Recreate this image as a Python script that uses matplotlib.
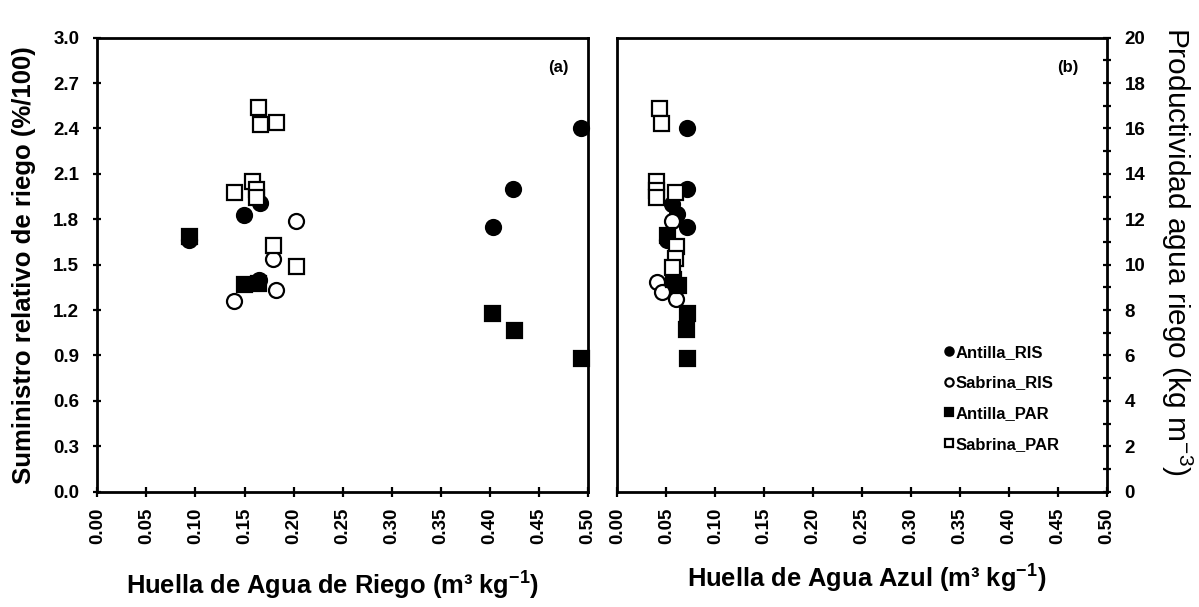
import matplotlib
matplotlib.use("Agg")
import matplotlib.pyplot as plt
from matplotlib.ticker import MultipleLocator, FormatStrFormatter

plt.rcParams['font.family'] = ['Liberation Sans', 'DejaVu Sans']
plt.rcParams['mathtext.fontset'] = 'custom'
plt.rcParams['mathtext.rm'] = 'Liberation Sans'
plt.rcParams['mathtext.bf'] = 'Liberation Sans:bold'

# Panel (a): irrigation water footprint vs relative irrigation supply
a_antilla_ris_x = [0.493, 0.424, 0.403, 0.149, 0.0935, 0.166, 0.165]
a_antilla_ris_y = [2.40, 2.00, 1.75, 1.83, 1.66, 1.91, 1.40]
a_sabrina_ris_x = [0.202, 0.1786, 0.182, 0.1395]
a_sabrina_ris_y = [1.79, 1.54, 1.33, 1.26]
a_antilla_par_x = [0.0935, 0.149, 0.164, 0.4026, 0.4243, 0.493]
a_antilla_par_y = [1.69, 1.37, 1.38, 1.18, 1.07, 0.88]
a_sabrina_par_x = [0.164, 0.1653, 0.182, 0.158, 0.139, 0.162, 0.162, 0.179, 0.202]
a_sabrina_par_y = [2.54, 2.43, 2.44, 2.05, 1.98, 2.00, 1.95, 1.63, 1.49]

# Panel (b): blue water footprint vs irrigation water productivity
b_antilla_ris_x = [0.0708, 0.0708, 0.0714, 0.0554, 0.0605, 0.0503, 0.058]
b_antilla_ris_y = [16.04, 13.32, 11.66, 12.69, 12.22, 11.08, 9.3]
b_sabrina_ris_x = [0.040, 0.0458, 0.0595, 0.056]
b_sabrina_ris_y = [9.24, 8.80, 8.47, 11.93]
b_antilla_par_x = [0.051, 0.057, 0.062, 0.0714, 0.0704, 0.0708]
b_antilla_par_y = [11.3, 9.39, 9.1, 7.88, 7.15, 5.9]
b_sabrina_par_x = [0.0424, 0.0444, 0.039, 0.039, 0.039, 0.0588, 0.0598, 0.0588, 0.056]
b_sabrina_par_y = [16.89, 16.23, 13.69, 13.31, 12.98, 13.2, 10.81, 10.3, 9.88]

series_names = ['Antilla_RIS', 'Sabrina_RIS', 'Antilla_PAR', 'Sabrina_PAR']
series_markers = ['o', 'o', 's', 's']
series_faces = ['black', 'white', 'black', 'white']

x_ticks = [0.00, 0.05, 0.10, 0.15, 0.20, 0.25, 0.30, 0.35, 0.40, 0.45, 0.50]

fig = plt.figure(figsize=(11.99, 6.07), dpi=100)
ax1 = fig.add_axes([0.0812, 0.190, 0.4092, 0.748])
ax2 = fig.add_axes([0.515, 0.190, 0.408, 0.748])

panel_a = [(a_antilla_ris_x, a_antilla_ris_y), (a_sabrina_ris_x, a_sabrina_ris_y),
           (a_antilla_par_x, a_antilla_par_y), (a_sabrina_par_x, a_sabrina_par_y)]
panel_b = [(b_antilla_ris_x, b_antilla_ris_y), (b_sabrina_ris_x, b_sabrina_ris_y),
           (b_antilla_par_x, b_antilla_par_y), (b_sabrina_par_x, b_sabrina_par_y)]

for ax, data in ((ax1, panel_a), (ax2, panel_b)):
    for (xs, ys), name, mk, fc in zip(data, series_names, series_markers, series_faces):
        ax.plot(xs, ys, linestyle='none', marker=mk, markersize=10.8,
                markerfacecolor=fc, markeredgecolor='black', markeredgewidth=1.6,
                label=name, clip_on=False, zorder=3)
    for sp in ax.spines.values():
        sp.set_linewidth(2.0)
    ax.set_xlim(0, 0.5)
    ax.set_xticks(x_ticks)
    ax.xaxis.set_major_formatter(FormatStrFormatter('%.2f'))
    ax.tick_params(axis='x', direction='inout', length=7, width=1.6, pad=8,
                   labelrotation=90, labelsize=13.5)
    for lab in ax.get_xticklabels():
        lab.set_fontweight('bold')

# Left panel axis
ax1.set_ylim(0, 3.0)
ax1.yaxis.set_major_locator(MultipleLocator(0.3))
ax1.yaxis.set_major_formatter(FormatStrFormatter('%.1f'))
ax1.tick_params(axis='y', direction='inout', length=6, width=1.6, pad=10, labelsize=13.5)
for lab in ax1.get_yticklabels():
    lab.set_fontweight('bold')
ax1.set_ylabel('Suministro relativo de riego (%/100)', fontsize=18.5, fontweight='bold')
ax1.yaxis.set_label_coords(-0.125, 0.5)
ax1.text(0.94, 0.935, '(a)', transform=ax1.transAxes, ha='center', va='center',
         fontsize=12, fontweight='bold')

# Right panel axis
ax2.set_ylim(0, 20)
ax2.yaxis.tick_right()
ax2.yaxis.set_label_position('right')
ax2.yaxis.set_major_locator(MultipleLocator(2))
ax2.yaxis.set_minor_locator(MultipleLocator(1))
ax2.tick_params(axis='y', which='both', direction='inout', length=6, width=1.6,
                pad=10, labelsize=13.5)
for lab in ax2.get_yticklabels():
    lab.set_fontweight('bold')
ax2.set_ylabel('Productividad agua riego (kg m$^{-3}$)', fontsize=21.5, rotation=270)
ax2.yaxis.set_label_coords(1.18, 0.53)
ax2.text(0.92, 0.935, '(b)', transform=ax2.transAxes, ha='center', va='center',
         fontsize=12, fontweight='bold')

ax1.set_xlabel('Huella de Agua de Riego (m\u00b3 kg$^{\\mathbf{-1}}$)', fontsize=18.4,
               fontweight='bold')
ax1.xaxis.set_label_coords(0.48, -0.168)
ax2.set_xlabel('Huella de Agua Azul (m\u00b3 kg$^{\\mathbf{-1}}$)', fontsize=18.4,
               fontweight='bold')
ax2.xaxis.set_label_coords(0.51, -0.153)

leg = ax2.legend(loc='lower left', bbox_to_anchor=(0.64, 0.054), frameon=False,
                 markerscale=0.55, handlelength=0.4, handletextpad=0.2,
                 labelspacing=0.95, prop={'size': 12, 'weight': 'bold'})

fig.savefig('out.png', dpi=100, facecolor='white')
